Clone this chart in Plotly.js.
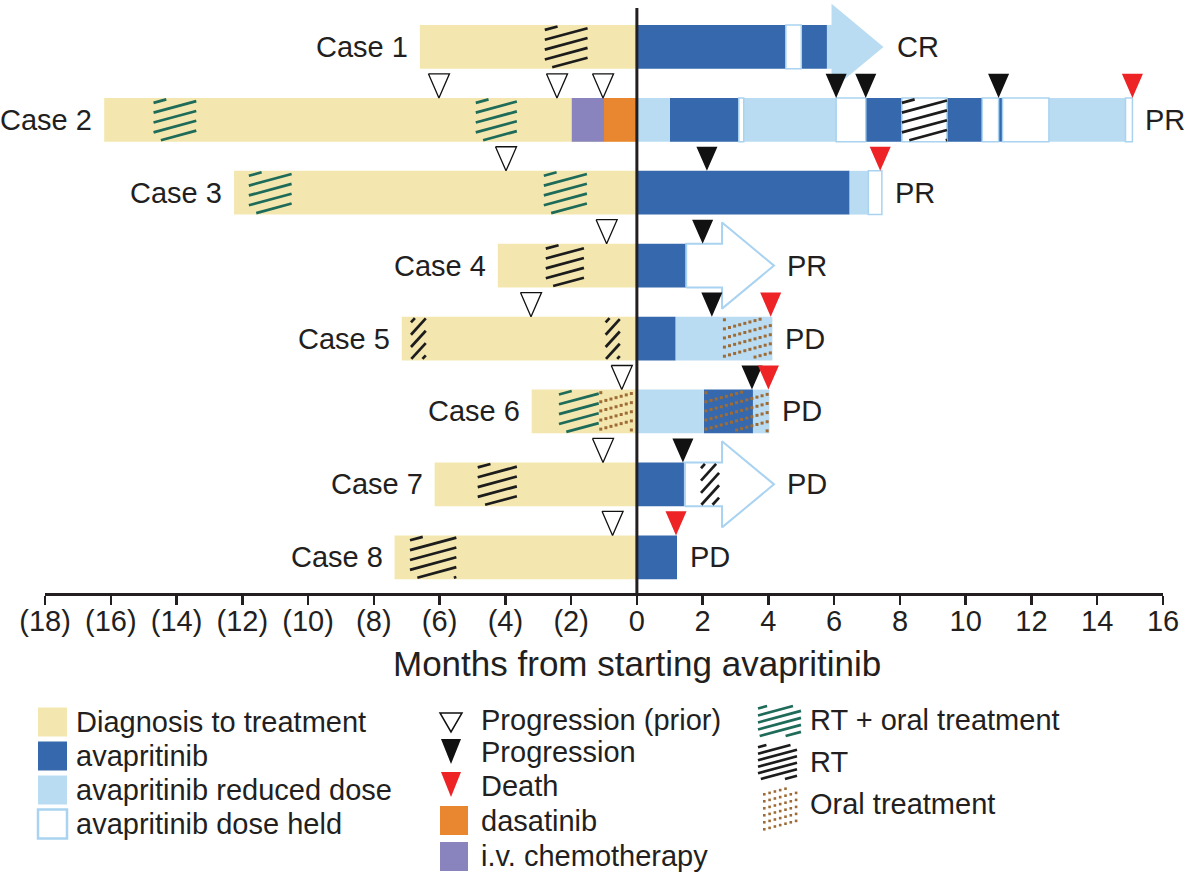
<!DOCTYPE html>
<html><head><meta charset="utf-8">
<script src="https://cdn.plot.ly/plotly-3.0.1.min.js"></script>
<style>html,body{margin:0;padding:0;background:#fff}</style>
</head><body><div id="chart" style="width:1186px;height:875px"></div>
<script>
// ---------- DATA ----------
const cases = ["Case 1","Case 2","Case 3","Case 4","Case 5","Case 6","Case 7","Case 8"];
const outcomes = ["CR","PR","PR","PR","PD","PD","PD","PD"];
const diagStart = [-6.6,-16.2,-12.25,-4.23,-7.15,-3.2,-6.15,-7.37];

const avapCase  = [1,1,2,2,2,2,3,4,5,6,7,8];
const avapStart = [0,5.0,1.0,6.96,9.43,11.0,0,0,0,2.04,0,0];
const avapEnd   = [4.53,5.78,3.1,8.06,10.5,11.12,6.47,1.5,1.18,3.53,1.46,1.22];

const reducedCase  = [2,2,2,3,5,6,6];
const reducedStart = [0,3.25,12.53,6.47,1.18,0,3.53];
const reducedEnd   = [1.0,6.06,14.86,7.04,4.12,2.04,4.03];

const heldCase  = [1,2,2,2,2,2,2,3];
const heldStart = [4.53,3.1,6.06,8.06,10.5,11.12,14.86,7.04];
const heldEnd   = [5.0,3.25,6.96,9.43,11.0,12.53,15.07,7.45];

const dasatinibCase = [2], dasatinibStart = [-1.0], dasatinibEnd = [0];
const ivCase = [2], ivStart = [-1.98], ivEnd = [-1.0];

const rtCase  = [1,2,4,5,5,7,7,8];
const rtStart = [-2.8,8.06,-2.77,-6.87,-0.95,-4.84,1.95,-6.9];
const rtEnd   = [-1.5,9.43,-1.61,-6.42,-0.52,-3.65,2.5,-5.49];

const rtOralCase  = [2,2,3,3,6];
const rtOralStart = [-14.7,-4.9,-11.8,-2.83,-2.37];
const rtOralEnd   = [-13.4,-3.65,-10.5,-1.52,-1.16];

const oralCase  = [5,6,6];
const oralStart = [2.6,-1.16,2.04];
const oralEnd   = [4.12,0,4.03];

const priorCase = [2,2,2,3,4,5,6,7,8];
const priorAt   = [-6.02,-2.43,-1.03,-3.98,-0.92,-3.22,-0.46,-1.03,-0.74];
const progCase  = [2,2,2,3,4,5,6,7];
const progAt    = [6.06,6.96,11.0,2.13,2.0,2.28,3.5,1.4];
const deathCase = [2,3,5,6,8];
const deathAt   = [15.07,7.4,4.07,4.0,1.19];

const arrowCase  = [1,4,7];
const arrowStart = [5.78,1.5,1.46];
const arrowTip   = [7.5,4.17,4.17];
const arrowKind  = ["reduced","held","held"];

const tickVals = [-18,-16,-14,-12,-10,-8,-6,-4,-2,0,2,4,6,8,10,12,14,16];
const tickText = ["(18)","(16)","(14)","(12)","(10)","(8)","(6)","(4)","(2)","0","2","4","6","8","10","12","14","16"];
const xTitle = "Months from starting avapritinib";

const legendCol1 = ["Diagnosis to treatment","avapritinib","avapritinib reduced dose","avapritinib dose held"];
const legendCol2 = ["Progression (prior)","Progression","Death","dasatinib","i.v. chemotherapy"];
const legendCol3 = ["RT + oral treatment","RT","Oral treatment"];

// ---------- STYLE ----------
const FONT = "Liberation Sans, Arial, Helvetica, sans-serif";
const TXT = "#231f20";
const C = {diag:"#F3E7AF", avap:"#3568AC", reduced:"#B9DCF2", held:"#FFFFFF", heldLine:"#A9D3F0",
  dasatinib:"#E8872F", iv:"#8984BD", green:"#1E6B59", rt:"#1C1C1C", oral:"#9E6B35", red:"#EE2326"};
const BAR_H = 0.3;          // half bar thickness (y units)
const TW = 0.64, TH = 0.33; // triangle width (months) & height (units)
const HEAD_H = 0.59, HEAD_L = 1.58;
const GAP = 0.135, DOT_GAP = 0.125, DOT_DX = 0.155;

const W = 1186, H = 875, ML = 45, MR = 23, MT = 0, MB = 282;
const PW = W - ML - MR, PH = H - MT - MB;
const PXM = PW / 34, PXU = PH / (8.643 - 0.51);   // px per month, px per y unit
const PX = x => (x - ML) / PW;
const PY = y => (MT + PH - y) / PH;

const rowY = c => cases.length + 1 - c;

// ---------- TRACES ----------
function barTrace(cs, st, en, color, line) {
  return {type:"bar", orientation:"h", y:cs.map(rowY), base:st, x:en.map((e,i)=>e-st[i]),
    width:2*BAR_H, marker:{color:color, line:line||{width:0}}, showlegend:false, hoverinfo:"skip"};
}
function hatchSegs(xa, xb, yb, yt, s, gap) {
  const out = []; const w = xb - xa;
  for (let c = yt - gap*0.35; c > yb - s*w; c -= gap) {
    const xe = Math.max(xa, xa + (yb - c)/s);
    const xx = Math.min(xb, xa + (yt - c)/s);
    if (xx - xe > 0.02*(xb-xa) + 1e-6) out.push([xe, c + s*(xe-xa), xx, c + s*(xx-xa)]);
  }
  return out;
}
function slopeFor(widthMonths) {
  const wpx = widthMonths * PXM;
  const sPx = wpx < 22 ? 1.1 : 0.27;     // narrow blocks get steep dashes
  return sPx * PXM / PXU;
}
function hatchTrace(cs, st, en, color) {
  const xs = [], ys = [];
  cs.forEach((c,i) => {
    const r = rowY(c);
    const s = slopeFor(en[i]-st[i]);
    const g = s > 0.3 ? GAP*1.25 : GAP;
    hatchSegs(st[i], en[i], r-BAR_H+0.02, r+BAR_H-0.02, s, g).forEach(q => {
      xs.push(q[0], q[2], null); ys.push(q[1], q[3], null);
    });
  });
  return {type:"scatter", mode:"lines", x:xs, y:ys, line:{color:color, width:2.7}, showlegend:false, hoverinfo:"skip"};
}
function dotTrace(cs, st, en, color) {
  const xs = [], ys = [];
  const s = 0.27 * PXM / PXU;
  cs.forEach((c,i) => {
    const r = rowY(c), yb = r-BAR_H, yt = r+BAR_H, xa = st[i], xb = en[i];
    for (let k = yt - DOT_GAP*0.4; k > yb - s*(xb-xa); k -= DOT_GAP) {
      for (let x = xa + DOT_DX*0.4; x < xb - 0.03; x += DOT_DX) {
        const y = k + s*(x - xa);
        if (y > yb + 0.03 && y < yt - 0.03) { xs.push(x); ys.push(y); }
      }
    }
  });
  return {type:"scatter", mode:"markers", x:xs, y:ys, marker:{symbol:"square", size:3, color:color},
    showlegend:false, hoverinfo:"skip"};
}
function triTrace(cs, at, fill, line) {
  const xs = [], ys = [];
  cs.forEach((c,i) => {
    const t = rowY(c) + BAR_H, p = at[i];
    xs.push(p-TW/2, p+TW/2, p, p-TW/2, null);
    ys.push(t+TH, t+TH, t, t+TH, null);
  });
  return {type:"scatter", mode:"lines", x:xs, y:ys, fill:"toself", fillcolor:fill,
    line:line || {width:0, color:fill}, showlegend:false, hoverinfo:"skip"};
}
function arrowTrace(kind, fill, line) {
  const xs = [], ys = [];
  arrowCase.forEach((c,i) => {
    if (arrowKind[i] !== kind) return;
    const r = rowY(c), s = arrowStart[i], tip = arrowTip[i];
    const back = Math.max(s, tip - HEAD_L);
    xs.push(s, back, back, tip, back, back, s, s, null);
    ys.push(r-BAR_H, r-BAR_H, r-HEAD_H, r, r+HEAD_H, r+BAR_H, r+BAR_H, r-BAR_H, null);
  });
  return {type:"scatter", mode:"lines", x:xs, y:ys, fill:"toself", fillcolor:fill,
    line:line, showlegend:false, hoverinfo:"skip"};
}

const data = [
  barTrace(cases.map((_,i)=>i+1), diagStart, cases.map(()=>0), C.diag),
  barTrace(avapCase, avapStart, avapEnd, C.avap),
  barTrace(reducedCase, reducedStart, reducedEnd, C.reduced),
  barTrace(heldCase, heldStart, heldEnd, C.held, {color:C.heldLine, width:1.5}),
  barTrace(dasatinibCase, dasatinibStart, dasatinibEnd, C.dasatinib),
  barTrace(ivCase, ivStart, ivEnd, C.iv),
  arrowTrace("reduced", C.reduced, {width:0, color:C.reduced}),
  arrowTrace("held", "#FFFFFF", {width:2, color:C.heldLine}),
  hatchTrace(rtOralCase, rtOralStart, rtOralEnd, C.green),
  hatchTrace(rtCase, rtStart, rtEnd, C.rt),
  dotTrace(oralCase, oralStart, oralEnd, C.oral),
  triTrace(priorCase, priorAt, "#FFFFFF", {width:1.3, color:"#111"}),
  triTrace(progCase, progAt, "#111111"),
  triTrace(deathCase, deathAt, C.red)
];

// ---------- ANNOTATIONS ----------
const annotations = [];
cases.forEach((name,i) => {
  annotations.push({x:diagStart[i], y:rowY(i+1), xref:"x", yref:"y", text:name, showarrow:false,
    xanchor:"right", yanchor:"middle", xshift:-10, font:{size:29, color:TXT, family:FONT}});
  const c = i+1;
  let end = 0;
  [[avapCase,avapEnd],[reducedCase,reducedEnd],[heldCase,heldEnd],[arrowCase,arrowTip]].forEach(([cs,en]) => {
    cs.forEach((cc,j) => { if (cc === c) end = Math.max(end, en[j]); });
  });
  annotations.push({x:end, y:rowY(c), xref:"x", yref:"y", text:outcomes[i], showarrow:false,
    xanchor:"left", yanchor:"middle", xshift:11, font:{size:29, color:TXT, family:FONT}});
});
// axis title centred on month 0, as in the figure
annotations.push({x:0, y:PY(663), xref:"x", yref:"paper", text:xTitle, showarrow:false,
  xanchor:"center", yanchor:"middle", font:{size:35, color:TXT, family:FONT}});

// ---------- LEGEND (drawn) ----------
const shapes = [];
shapes.push({type:"line", xref:"x", yref:"paper", x0:0, x1:0, y0:0, y1:(PH-8)/PH, line:{color:TXT, width:3}, layer:"above"});

function rectPx(x0,y0,x1,y1,fill,line) {
  shapes.push({type:"rect", xref:"paper", yref:"paper", x0:PX(x0), x1:PX(x1), y0:PY(y1), y1:PY(y0),
    fillcolor:fill, line:line||{width:0}});
}
function triPx(cx, ytop, w, h, fill, line) {
  shapes.push({type:"path", xref:"paper", yref:"paper",
    path:`M${PX(cx-w/2)},${PY(ytop)} L${PX(cx+w/2)},${PY(ytop)} L${PX(cx)},${PY(ytop+h)} Z`,
    fillcolor:fill, line:line||{width:0}});
}
function hatchPx(x0,y0,x1,y1,color,gap) {
  hatchSegs(x0, x1, -y1, -y0, 0.27, gap).forEach(g => {
    shapes.push({type:"line", xref:"paper", yref:"paper", x0:PX(g[0]), y0:PY(-g[1]), x1:PX(g[2]), y1:PY(-g[3]),
      line:{color:color, width:2.7}});
  });
}
function legText(x, y, t) {
  annotations.push({x:PX(x), y:PY(y), xref:"paper", yref:"paper", text:t, showarrow:false,
    xanchor:"left", yanchor:"middle", font:{size:29, color:TXT, family:FONT}});
}
// column 1
const col1Y = [722, 756, 790, 824];
const col1Fill = [C.diag, C.avap, C.reduced, "#FFFFFF"];
col1Y.forEach((y,i) => {
  rectPx(38, y-14.5, 67, y+14.5, col1Fill[i], i===3 ? {color:C.heldLine, width:2.5} : {width:0});
  legText(74, y, legendCol1[i]);
});
// column 2
const col2Y = [720, 752, 786, 821, 856];
triPx(451, 713, 22, 19, "#FFFFFF", {color:"#111", width:1.5});
triPx(451, 739, 20, 25, "#111111");
triPx(451, 772, 20, 25, C.red);
rectPx(440, 806, 468, 835, C.dasatinib);
rectPx(440, 842, 468, 871, C.iv);
col2Y.forEach((y,i) => legText(479, y, legendCol2[i]));
// column 3
const col3Y = [720, 762, 804];
hatchPx(758, 706, 801, 736, C.green, 7);
hatchPx(758, 745, 797, 779, C.rt, 6.5);
for (let k = 0; k < 6; k++) {
  for (let j = 0; j < 7; j++) {
    const x = 763 + j*5.3, y = 793 + k*7 - j*1.4;
    if (y > 787 && y < 830) rectPx(x, y, x+2.6, y+2.6, C.oral);
  }
}
col3Y.forEach((y,i) => legText(808, y, legendCol3[i]));

// ---------- LAYOUT ----------
const layout = {
  width:W, height:H, margin:{l:ML, r:MR, t:MT, b:MB, pad:0},
  paper_bgcolor:"#fff", plot_bgcolor:"#fff", barmode:"overlay", showlegend:false,
  font:{family:FONT, color:TXT, size:29},
  xaxis:{range:[-18,16], tickmode:"array", tickvals:tickVals, ticktext:tickText,
    tickfont:{size:29, color:TXT, family:FONT}, ticks:"outside", ticklen:9, tickwidth:2.5, tickcolor:TXT,
    ticklabelstandoff:-9,
    showline:true, linewidth:3, linecolor:TXT, showgrid:false, zeroline:false, automargin:false, fixedrange:true},
  yaxis:{range:[0.51, 8.643], visible:false, showgrid:false, zeroline:false, fixedrange:true},
  annotations:annotations, shapes:shapes
};
Plotly.newPlot("chart", data, layout, {staticPlot:true, displayModeBar:false});
</script></body></html>
